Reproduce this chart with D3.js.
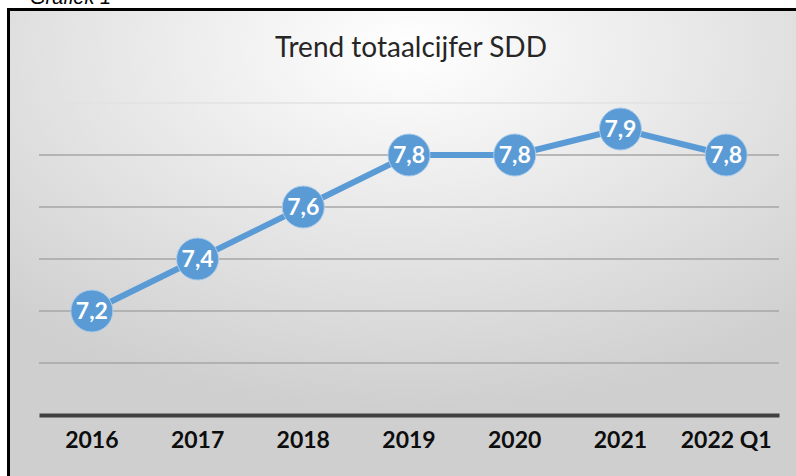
<!DOCTYPE html>
<html><head><meta charset="utf-8">
<script src="https://cdn.jsdelivr.net/npm/d3@7"></script>
<style>html,body{margin:0;padding:0;background:#fff;overflow:hidden}</style>
</head><body>
<svg id="c" width="796" height="476"></svg>
<script>
const categories = ["2016","2017","2018","2019","2020","2021","2022 Q1"];
const values = [7.2, 7.4, 7.6, 7.8, 7.8, 7.9, 7.8];
const valueLabels = ["7,2","7,4","7,6","7,8","7,8","7,9","7,8"];
const gridTicks = [7.0, 7.2, 7.4, 7.6, 7.8, 8.0];
const title = "Trend totaalcijfer SDD";
const caption = "Grafiek 1";

const svg = d3.select("#c");
const defs = svg.append("defs");
const g = defs.append("radialGradient").attr("id","bg")
  .attr("cx","50%").attr("cy","8%").attr("r","75%").attr("fx","50%").attr("fy","8%");
g.append("stop").attr("offset","0%").attr("stop-color","#ffffff");
g.append("stop").attr("offset","100%").attr("stop-color","#cfcfcf");

svg.append("rect").attr("x",0).attr("y",0).attr("width",796).attr("height",476).attr("fill","#fff");
svg.append("rect").attr("x",9).attr("y",10).attr("width",800).attr("height",480).attr("fill","url(#bg)");
svg.append("line").attr("x1",8.5).attr("x2",8.5).attr("y1",8).attr("y2",476).attr("stroke","#000").attr("stroke-width",3);
svg.append("line").attr("x1",7).attr("x2",796).attr("y1",9.5).attr("y2",9.5).attr("stroke","#000").attr("stroke-width",3);

svg.append("text").attr("x",30).attr("y",4).attr("font-family","Liberation Sans, Arial").attr("font-style","italic")
  .attr("font-size",20).attr("fill","#000").text(caption);

const x = d3.scaleBand().domain(categories).range([39,779]);
const y = d3.scaleLinear().domain([6.8,8.0]).range([415,103]);

svg.append("text").attr("x",411).attr("y",57).attr("text-anchor","middle")
  .attr("font-family","Lato, Open Sans, sans-serif").attr("font-size",28).attr("fill","#262626").text(title);

svg.append("g").selectAll("line").data(gridTicks).join("line")
  .attr("x1",39).attr("x2",779).attr("y1",d=>y(d)).attr("y2",d=>y(d))
  .attr("stroke",(d,i)=> i===5 ? "#e2e2e2" : "#a6a6a6").attr("stroke-width",1.5);

const xAxis = svg.append("g").attr("transform",`translate(0,${y(6.8)})`)
  .call(d3.axisBottom(x).tickSize(0).tickPadding(17));
xAxis.select(".domain").attr("stroke","#404040").attr("stroke-width",4);
xAxis.selectAll("text").attr("font-family","Lato, Open Sans, sans-serif").attr("font-weight","bold")
  .attr("font-size",23).attr("fill","#0d0d0d");

const cx = d => x(d) + x.bandwidth()/2;
const line = d3.line().x((d,i)=>cx(categories[i])).y(d=>y(d));
svg.append("path").datum(values).attr("d",line).attr("fill","none")
  .attr("stroke","#5b9bd5").attr("stroke-width",6).attr("stroke-linejoin","round");

const pts = svg.append("g").selectAll("g").data(values).join("g")
  .attr("transform",(d,i)=>`translate(${cx(categories[i])},${y(d)})`);
pts.append("circle").attr("r",21).attr("fill","#5b9bd5").attr("stroke","#a9cbeb").attr("stroke-width",1);
pts.append("text").attr("text-anchor","middle").attr("dy","0.36em")
  .attr("font-family","Lato, Open Sans, sans-serif").attr("font-weight","bold").attr("font-size",23)
  .attr("fill","#fff").text((d,i)=>valueLabels[i]);
</script>
</body></html>
